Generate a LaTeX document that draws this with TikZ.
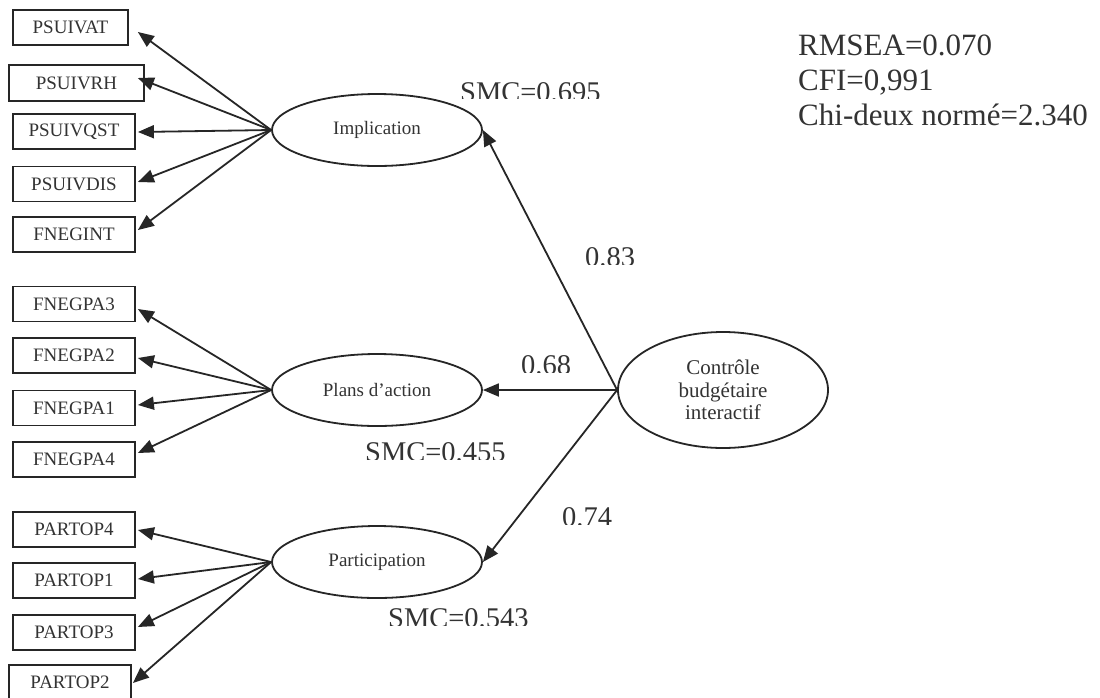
\documentclass[tikz,border=0pt]{standalone}
\usepackage{fontspec}
\setmainfont{Liberation Serif}
\usetikzlibrary{shapes.geometric,arrows.meta,calc}
\definecolor{ink}{HTML}{262626}
\definecolor{txt}{HTML}{333333}
\tikzset{
  obs/.style={draw=ink,line width=1.8pt,rectangle,minimum height=35pt,inner sep=0pt,
    text=txt,font=\fontsize{19}{22}\selectfont},
  lat/.style={draw=ink,line width=1.8pt,ellipse,minimum width=210pt,minimum height=72pt,inner sep=0pt,
    text=txt,font=\fontsize{19}{22}\selectfont},
  arr/.style={draw=ink,line width=1.8pt,-{Triangle[length=16pt,width=13pt]}},
  lbl/.style={anchor=base west,inner sep=0pt,text=txt,font=\fontsize{28.5}{30}\selectfont},
  fit/.style={anchor=base west,inner sep=0pt,text=txt,font=\fontsize{31}{35}\selectfont}
}
\begin{document}
\begin{tikzpicture}[x=1pt,y=-1pt]
\useasboundingbox (0,0) rectangle (1100,697);
\clip (0,0) rectangle (1100,697);
\fill[white] (0,0) rectangle (1100,697);

% observed variables
\node[obs,minimum width=115pt] (b1) at (70.5,27.5) {PSUIVAT};
\node[obs,minimum width=135pt,minimum height=36pt] (b2) at (76.5,83) {PSUIVRH};
\node[obs,minimum width=122pt] (b3) at (74,131.5) {PSUIVQST};
\node[obs,minimum width=122pt] (b4) at (74,184) {PSUIVDIS};
\node[obs,minimum width=122pt] (b5) at (74,234.5) {FNEGINT};

\node[obs,minimum width=122pt] (p3) at (74,304) {FNEGPA3};
\node[obs,minimum width=122pt] (p2) at (74,355.5) {FNEGPA2};
\node[obs,minimum width=122pt] (p1) at (74,408) {FNEGPA1};
\node[obs,minimum width=122pt] (p4) at (74,459.5) {FNEGPA4};

\node[obs,minimum width=122pt] (r4) at (74,529.5) {PARTOP4};
\node[obs,minimum width=122pt] (r1) at (74,580.5) {PARTOP1};
\node[obs,minimum width=122pt] (r3) at (74,632.5) {PARTOP3};
\node[obs,minimum width=122pt] (r2) at (70,682.5) {PARTOP2};

% latent variables
\node[lat] (imp) at (377,130) {Implication};
\node[lat] (pla) at (377,390) {Plans d’action};
\node[lat] (par) at (377,562) {Participation};
\node[lat,minimum height=116pt,align=center,font=\fontsize{21}{22.5}\selectfont] (cbi) at (723,390)
  {Contrôle\\budgétaire\\interactif};

% loadings
\draw[arr] (imp.west) -- ($(b1.east)+(9,4.5)$);
\draw[arr] (imp.west) -- ($(b2.east)+(-7,-5)$);
\draw[arr] (imp.west) -- ($(b3.east)+(2,0.5)$);
\draw[arr] (imp.west) -- ($(b4.east)+(2,-2)$);
\draw[arr] (imp.west) -- ($(b5.east)+(2,-4.5)$);

\draw[arr] (pla.west) -- ($(p3.east)+(2,5)$);
\draw[arr] (pla.west) -- ($(p2.east)+(2,2.5)$);
\draw[arr] (pla.west) -- ($(p1.east)+(2,-3)$);
\draw[arr] (pla.west) -- ($(p4.east)+(2,-6.5)$);

\draw[arr] (par.west) -- ($(r4.east)+(2,0.5)$);
\draw[arr] (par.west) -- ($(r1.east)+(2,-1.5)$);
\draw[arr] (par.west) -- ($(r3.east)+(2,-5.5)$);
\draw[arr] (par.west) -- ($(r2.east)+(1,0.5)$);

% structural paths
\draw[arr] (cbi.west) -- (imp.east);
\draw[arr] (cbi.west) -- (pla.east);
\draw[arr] (cbi.west) -- (par.east);

% labels (bottoms cut as in the source)
\begin{scope}\clip (450,60) rectangle (650,98);
\node[lbl] (smc1) at (460,101) {SMC=0.695};\end{scope}
\begin{scope}\clip (575,230) rectangle (660,264);
\node[lbl] (l83) at (585,266) {0.83};\end{scope}
\begin{scope}\clip (510,340) rectangle (580,372);
\node[lbl] (l68) at (521,374) {0.68};\end{scope}
\begin{scope}\clip (355,425) rectangle (530,459);
\node[lbl] (smc2) at (365,461) {SMC=0.455};\end{scope}
\begin{scope}\clip (550,490) rectangle (640,524);
\node[lbl] (l74) at (562,526) {0.74};\end{scope}
\begin{scope}\clip (378,598) rectangle (560,625);
\node[lbl] (smc3) at (388,627) {SMC=0.543};\end{scope}

% fit indices
\node[fit] (rmsea) at (798,55) {RMSEA=0.070};
\node[fit] (cfi) at (798,90) {CFI=0,991};
\node[fit] (chi) at (798,125) {Chi-deux normé=2.340};
\end{tikzpicture}
\end{document}
